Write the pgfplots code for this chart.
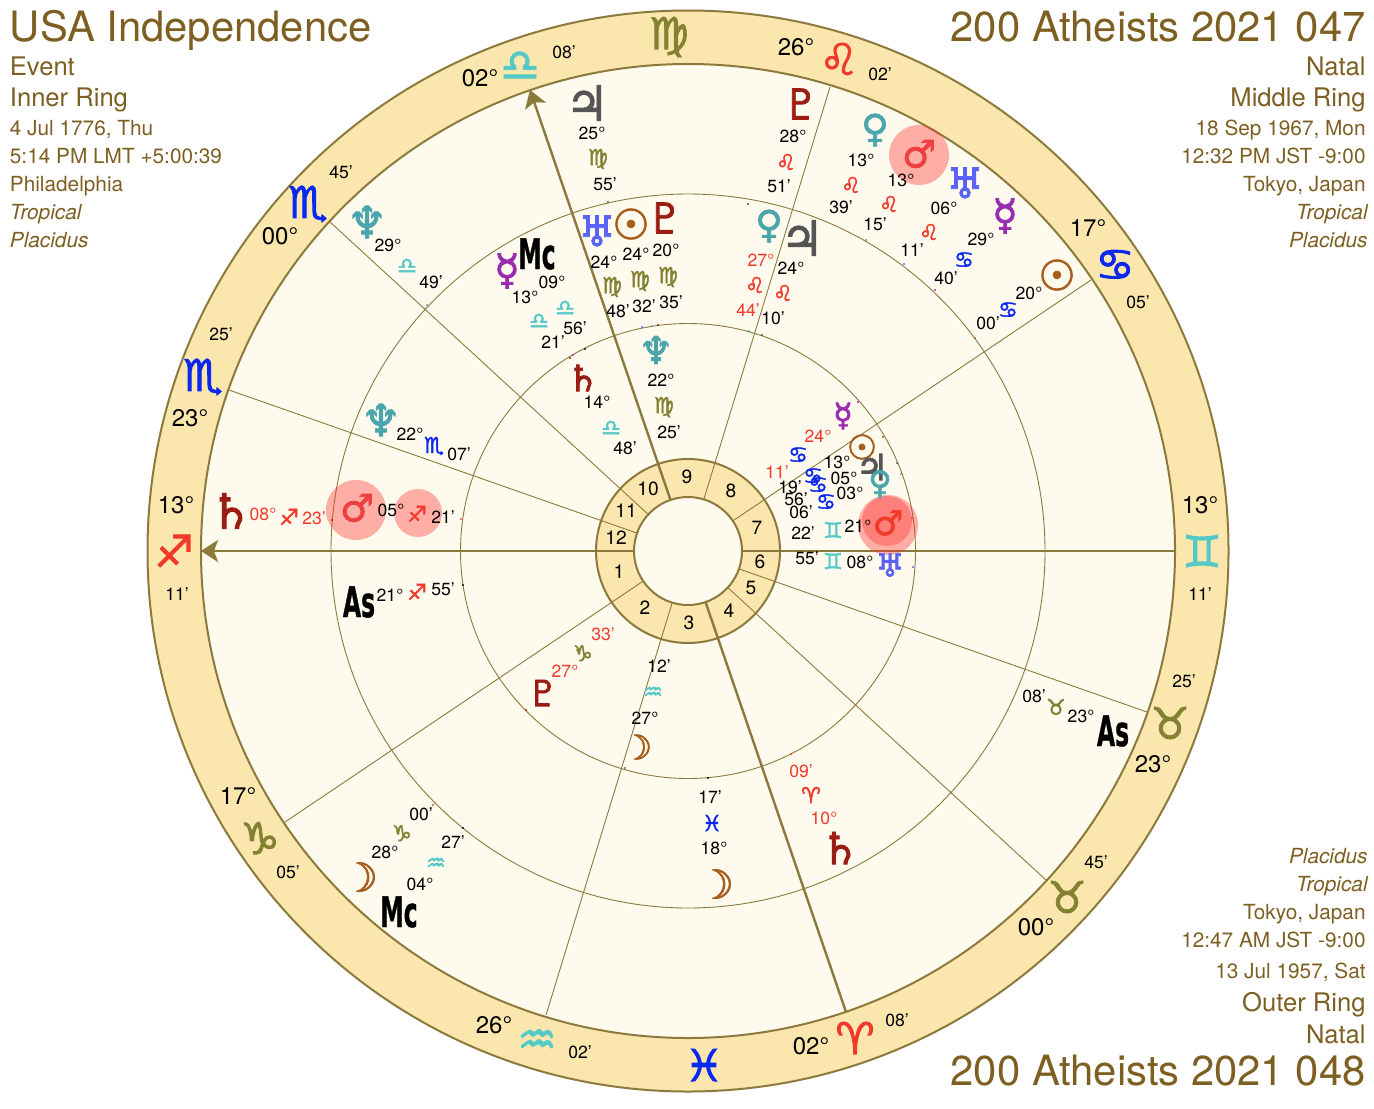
\documentclass[border=0pt]{standalone}
\usepackage{fontspec}
\usepackage{pgfplots}
\pgfplotsset{compat=1.18}
\usetikzlibrary{arrows.meta,plotmarks}
\setmainfont{TeX Gyre Heros}
\newfontfamily\sym[FakeBold=2]{DejaVu Sans}
\newfontfamily\symas[FakeBold=1]{DejaVu Sans Bold}
\definecolor{brd}{HTML}{8B7A3C}
\definecolor{ringc}{HTML}{FBE7AE}
\definecolor{cream}{HTML}{FFFAEE}
\definecolor{ttl}{HTML}{7D5F22}
\definecolor{cTeal}{HTML}{55C9C6}
\definecolor{cOl}{HTML}{838132}
\definecolor{cRed}{HTML}{F23A2A}
\definecolor{cBlu}{HTML}{0A28F0}
\definecolor{cJup}{HTML}{555555}
\definecolor{cPlu}{HTML}{9B1C12}
\definecolor{cVen}{HTML}{4AA5AC}
\definecolor{cMar}{HTML}{EE4040}
\definecolor{cUra}{HTML}{5A63F5}
\definecolor{cMer}{HTML}{9A2CB0}
\definecolor{cSun}{HTML}{A65E1E}
\newcommand\G[5]{\addplot[forget plot,only marks,mark=text,text mark={#5},text mark as node=true,
  text mark style={font=\sym\fontsize{#4}{#4}\selectfont,text=#3,inner sep=0pt,anchor=center},mark options={color=#3}] coordinates {(#1,#2)};}
\newcommand\Disk[3]{\draw[fill=#2,draw=brd,line width=#3pt] (axis cs:688,551) circle[radius=#1];}
\newcommand\Ring[1]{\draw[draw=brd,line width=0.45pt] (axis cs:688,551) circle[radius=#1];}
\newcommand\Halo[3]{\fill[red!80!white,fill opacity=0.38] (axis cs:#1,#2) circle[radius=#3];}
\newcommand\Sp[4]{\addplot[forget plot,brd,line width=0.45pt] coordinates {(#1,#2) (#3,#4)};}
\newcommand\Hv[4]{\addplot[forget plot,brd,line width=1.2pt] coordinates {(#1,#2) (#3,#4)};}
\newcommand\Ar[4]{\addplot[forget plot,brd,line width=1.2pt,-{Stealth[length=8.5pt,width=11pt,inset=2pt]}] coordinates {(#1,#2) (#3,#4)};}
\newcommand\D[3]{\addplot[forget plot,only marks,mark=*,mark size=0.4pt,mark options={draw=#3,fill=#3,line width=0.1pt}] coordinates {(#1,#2)};}
% text helpers
\newcommand\T[3]{\node[inner sep=0pt,anchor=center,font=\fontsize{8.8}{8.8}\selectfont,text=black] at (axis cs:#1,#2) {#3};}
\newcommand\R[3]{\node[inner sep=0pt,anchor=center,font=\fontsize{8.8}{8.8}\selectfont,text=cRed] at (axis cs:#1,#2) {#3};}
\newcommand\B[3]{\node[inner sep=0pt,anchor=center,font=\fontsize{12}{12}\selectfont,text=black] at (axis cs:#1,#2) {#3};}
\newcommand\HN[3]{\node[inner sep=0pt,anchor=center,font=\fontsize{9.6}{9.6}\selectfont,text=black] at (axis cs:#1,#2) {#3};}
\newcommand\AM[3]{\node[inner sep=0pt,anchor=center,font=\symas\fontsize{21}{21}\selectfont,text=black,xscale=0.56] at (axis cs:#1,#2) {#3};}
\newcommand\LL[4]{\node[inner sep=0pt,anchor=base west,font=\fontsize{#3}{#3}\selectfont,text=ttl] at (axis cs:#1,#2) {#4};}
\newcommand\LR[4]{\node[inner sep=0pt,anchor=base east,font=\fontsize{#3}{#3}\selectfont,text=ttl] at (axis cs:#1,#2) {#4};}
\begin{document}
\begin{tikzpicture}
\begin{axis}[at={(0,0)},anchor=south west,scale only axis,width=687pt,height=554pt,
  xmin=0,xmax=1374,ymin=0,ymax=1108,y dir=reverse,hide axis,clip=false]
% wheel
\Disk{540.5}{ringc}{1}
\Disk{487}{cream}{1}
\Ring{357}
\Ring{227.5}
\Disk{92}{ringc}{1}
\Disk{54}{cream}{1}
% cusps
\Sp{703.8}{499.3}{830}{87}
\Sp{672.2}{602.7}{546}{1015}
\Sp{732.8}{520.9}{1091}{280}
\Sp{643.2}{581.1}{285}{822}
\Sp{739}{568.9}{1147}{712}
\Sp{637}{533.1}{229}{390}
\Sp{727.8}{587.6}{1046}{880}
\Sp{648.2}{514.4}{330}{222}
\Hv{742}{551}{1175}{551}
\Hv{705.5}{602}{846}{1012}
\Ar{634}{551}{201}{551}
\Ar{670.5}{500}{530}{90}
% ticks on rings
\D{608}{202}{cJup}\D{748}{204}{cPlu}\D{866}{240}{cVen}\D{904}{264}{cUra}\D{935}{290}{cMer}\D{975}{338}{cSun}
\D{427}{305}{cVen}\D{332}{520}{cPlu}\D{433}{805}{cSun}\D{463}{828}{black}
\D{642}{327}{cUra}\D{652}{326}{cVen}\D{658}{325}{cPlu}\D{749}{331}{cVen}\D{762}{335}{cJup}
\D{570}{358}{cPlu}\D{573}{355}{cMer}\D{585}{349}{black}
\D{858}{402}{cMer}\D{883}{437}{cSun}\D{897}{463}{cJup}\D{901}{474}{cVen}\D{912}{518}{cRed}\D{913}{567}{cUra}
\D{461}{519}{cRed}\D{463}{585}{black}\D{526}{710}{cPlu}\D{577}{650}{cOl}\D{625}{768}{cSun}\D{708}{778}{black}\D{791}{754}{cRed}
% halos
\Halo{919}{155}{30}
\Halo{356}{510}{30}
\Halo{418}{513}{24}
\Halo{888}{525}{30}
\Halo{887}{521}{25}
% house numbers
\HN{687}{477}{9}\HN{731}{491}{8}\HN{757}{528}{7}\HN{760}{562}{6}\HN{751}{588}{5}\HN{729}{611}{4}
\HN{689}{623}{3}\HN{645}{608}{2}\HN{619}{572}{1}\HN{616}{538}{12}\HN{626}{511}{11}\HN{648}{489}{10}
% outer ring degrees
\B{480}{78}{02°}\B{796}{47}{26°}\B{1088}{228}{17°}\B{1200}{505}{13°}\B{1153}{764}{23°}\B{1036}{927}{00°}
\B{811}{1046}{02°}\B{494}{1025}{26°}\B{238}{796}{17°}\B{176}{505}{13°}\B{190}{418}{23°}\B{280}{236}{00°}
\T{564}{52}{08'}\T{880}{74}{02'}\T{1138}{302}{05'}\T{1200}{594}{11'}\T{1184}{681}{25'}\T{1096}{862}{45'}
\T{897}{1020}{08'}\T{580}{1052}{02'}\T{288}{872}{05'}\T{177}{594}{11'}\T{221}{334}{25'}\T{341}{172}{45'}
% zodiac ring glyphs
\G{1202}{551}{cTeal}{22}{♊}\G{1170}{723}{cOl}{22}{♉}\G{1067}{897}{cOl}{22}{♉}\G{855}{1038}{cRed}{22}{♈}
\G{704}{1065}{cBlu}{22}{♓}\G{537}{1042}{cTeal}{22}{♒}\G{260}{838}{cOl}{22}{♑}\G{174}{551}{cRed}{22}{♐}
\G{203}{377}{cBlu}{22}{♏}\G{308}{204}{cBlu}{22}{♏}\G{520}{66}{cTeal}{22}{♎}\G{669}{37}{cOl}{22}{♍}
\G{839}{59}{cRed}{22}{♌}\G{1115}{265}{cBlu}{22}{♋}
% outer band
\G{587}{103}{cJup}{24}{♃}\T{592}{133}{25°}\G{598}{159}{cOl}{11}{♍}\T{605}{184}{55'}
\G{801}{104}{cPlu}{21}{♇}\T{793}{136}{28°}\G{786}{162}{cRed}{11}{♌}\T{779}{186}{51'}
\G{875}{130}{cVen}{19}{♀}\T{861}{160}{13°}\G{851}{185}{cRed}{11}{♌}\T{841}{207}{39'}
\G{919}{154}{cMar}{19}{♂}\T{901}{180}{13°}\G{889}{204}{cRed}{11}{♌}\T{875}{224}{15'}
\G{965}{183}{cUra}{21}{♅}\T{944}{208}{06°}\G{929}{232}{cRed}{11}{♌}\T{912}{250}{11'}
\G{1005}{216}{cMer}{21}{☿}\T{981}{239}{29°}\G{964}{260}{cBlu}{11}{♋}\T{946}{278}{40'}
\G{1057}{275}{cSun}{21}{☉}\T{1029}{293}{20°}\G{1008}{310}{cBlu}{11}{♋}\T{988}{323}{00'}
\G{367}{222}{cVen}{22}{♆}\T{388}{245}{29°}\G{407}{266}{cTeal}{11}{♎}\T{431}{282}{49'}
% middle band top
\G{597}{231}{cUra}{21}{♅}\T{604}{262}{24°}\G{612}{287}{cOl}{11}{♍}\T{618}{311}{48'}
\G{631}{224}{cSun}{21}{☉}\T{636}{254}{24°}\G{640}{281}{cOl}{11}{♍}\T{644}{306}{32'}
\G{665}{218}{cPlu}{21}{♇}\T{666}{250}{20°}\G{668}{277}{cOl}{11}{♍}\T{671}{302}{35'}
\G{769}{226}{cVen}{19}{♀}\R{761}{260}{27°}\G{755}{285}{cRed}{11}{♌}\R{748}{310}{44'}
\G{802}{238}{cJup}{24}{♃}\T{791}{268}{24°}\G{783}{293}{cRed}{11}{♌}\T{773}{318}{10'}
\AM{537}{254}{Mc}\G{507}{271}{cMer}{21}{☿}\T{552}{282}{09°}\T{525}{297}{13°}
\G{565}{308}{cTeal}{11}{♎}\G{539}{321}{cTeal}{11}{♎}\T{575}{328}{56'}\T{553}{342}{21'}
\G{381}{420}{cVen}{22}{♆}\T{410}{434}{22°}\G{434}{446}{cBlu}{11}{♏}\T{459}{454}{07'}
% left row
\G{231}{511}{cPlu}{24}{♄}\R{263}{514}{08°}\G{289}{517}{cRed}{11}{♐}\R{314}{518}{23'}
\G{357}{508}{cMar}{19}{♂}\T{391}{510}{05°}\G{417}{514}{cRed}{11}{♐}\T{443}{517}{21'}
\AM{359}{602}{As}\T{390}{595}{21°}\G{417}{592}{cRed}{11}{♐}\T{443}{589}{55'}
% inner band top
\G{656}{350}{cVen}{19}{♆}\T{661}{380}{22°}\G{664}{407}{cOl}{11}{♍}\T{669}{432}{25'}
\G{583}{378}{cPlu}{18}{♄}\T{597}{402}{14°}\G{611}{428}{cTeal}{11}{♎}\T{625}{448}{48'}
% right cluster
\G{843}{416}{cMer}{16}{☿}\R{818}{436}{24°}\G{798}{455}{cBlu}{11}{♋}\R{777}{472}{11'}
\G{862}{447}{cSun}{17}{☉}\T{837}{462}{13°}\G{813}{476}{cBlu}{11}{♋}\T{790}{487}{19'}
\G{872}{467}{cJup}{18}{♃}\T{844}{478}{05°}\G{818}{485}{cBlu}{11}{♋}\T{796}{499}{56'}
\G{880}{484}{cVen}{16}{♀}\T{850}{493}{03°}\G{826}{502}{cBlu}{11}{♋}\T{801}{512}{06'}
\G{888}{523}{cRed}{17}{♂}\T{858}{526}{21°}\G{833}{530}{cTeal}{11}{♊}\T{803}{533}{22'}
\G{890}{565}{cUra}{16}{♅}\T{860}{562}{08°}\G{833}{561}{cTeal}{11}{♊}\T{807}{558}{55'}
% lower
\R{603}{634}{33'}\G{583}{653}{cOl}{11}{♑}\R{565}{671}{27°}\G{543}{693}{cPlu}{18}{♇}
\T{659}{666}{12'}\G{653}{693}{cTeal}{11}{♒}\T{645}{718}{27°}\G{637}{747}{cSun}{17}{☽}
\T{710}{797}{17'}\G{712}{823}{cBlu}{11}{♓}\T{714}{848}{18°}\G{716}{884}{cSun}{20}{☽}
\R{801}{771}{09'}\G{811}{795}{cRed}{11}{♈}\R{824}{818}{10°}\G{840}{848}{cPlu}{22}{♄}
\T{1034}{696}{08'}\G{1056}{707}{cOl}{11}{♉}\T{1081}{716}{23°}\AM{1113}{731}{As}
\T{421}{814}{00'}\G{402}{833}{cOl}{11}{♑}\T{385}{852}{28°}\G{360}{877}{cSun}{20}{☽}
\T{453}{842}{27'}\G{436}{864}{cTeal}{11}{♒}\T{420}{884}{04°}\AM{399}{912}{Mc}
% corner text
\LL{9.5}{41}{20.9}{USA Independence}
\LL{9.5}{75}{12.8}{Event}
\LL{9.5}{106}{12.8}{Inner Ring}
\LL{9.5}{135}{10.4}{4 Jul 1776, Thu}
\LL{9.5}{163}{10.4}{5:14 PM LMT +5:00:39}
\LL{9.5}{191}{10.4}{Philadelphia}
\LL{9.5}{219}{10.4}{\itshape Tropical}
\LL{9.5}{247}{10.4}{\itshape Placidus}
\LR{1366}{41}{20.9}{200 Atheists 2021 047}
\LR{1366}{75}{12.8}{Natal}
\LR{1366}{106}{12.8}{Middle Ring}
\LR{1366}{135}{10.4}{18 Sep 1967, Mon}
\LR{1366}{163}{10.4}{12:32 PM JST -9:00}
\LR{1366}{191}{10.4}{Tokyo, Japan}
\LR{1368}{219}{10.4}{\itshape Tropical}
\LR{1368}{247}{10.4}{\itshape Placidus}
\LR{1368}{863}{10.4}{\itshape Placidus}
\LR{1368}{891}{10.4}{\itshape Tropical}
\LR{1366}{919}{10.4}{Tokyo, Japan}
\LR{1366}{947}{10.4}{12:47 AM JST -9:00}
\LR{1366}{978}{10.4}{13 Jul 1957, Sat}
\LR{1366}{1011}{12.8}{Outer Ring}
\LR{1366}{1043}{12.8}{Natal}
\LR{1366}{1085}{20.9}{200 Atheists 2021 048}
\end{axis}
\pgfresetboundingbox
\path[use as bounding box] (0,0) rectangle (687pt,554pt);
\end{tikzpicture}
\end{document}
